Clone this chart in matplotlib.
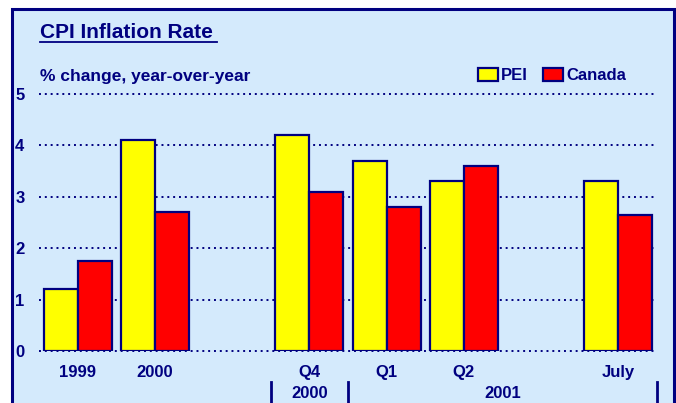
import numpy as np
import matplotlib.pyplot as plt
from matplotlib.patches import Rectangle
from matplotlib.transforms import blended_transform_factory

plt.rcParams['font.family'] = ['Liberation Sans', 'DejaVu Sans']
plt.rcParams['font.weight'] = 'bold'

navy = '#000080'
bg = '#D4EAFC'

# CPI, % change year-over-year
periods = ['1999', '2000', '', 'Q4', 'Q1', 'Q2', '', 'July']
pei = [1.2, 4.1, np.nan, 4.2, 3.7, 3.3, np.nan, 3.3]
canada = [1.75, 2.7, np.nan, 3.1, 2.8, 3.6, np.nan, 2.65]
years = ['2000', '2001']
year_spans = [(2.5, 3.5), (3.5, 7.5)]

fs = 12

fig = plt.figure(figsize=(6.76, 4.03), dpi=100)
fig.patch.set_facecolor('white')
# framed panel behind everything
panel = Rectangle((12/676, -0.05), 662/676, 1.05 - 9/403,
                  transform=fig.transFigure, facecolor=bg,
                  edgecolor=navy, linewidth=2.2, zorder=-10)
fig.add_artist(panel)

ax = fig.add_axes([39/676, 52/403, 618/676, 257/403])
ax.set_facecolor('none')
x = np.arange(len(periods))
w = 0.44
ax.bar(x - w/2, pei, w, color='#FFFF00', edgecolor=navy, linewidth=1.6,
       zorder=3, label='PEI')
ax.bar(x + w/2, canada, w, color='#FF0000', edgecolor=navy, linewidth=1.6,
       zorder=3, label='Canada')

ax.set_xlim(-0.5, len(periods) - 0.5)
ax.set_ylim(0, 5)
ax.set_yticks(range(6))
ax.set_xticks(x)
ax.set_xticklabels(periods)
ax.tick_params(axis='x', length=0, pad=10, labelsize=fs, labelcolor=navy)
ax.tick_params(axis='y', length=0, pad=10.5, labelsize=fs, labelcolor=navy)
ax.yaxis.grid(True, linestyle=(0, (1, 2)), color=navy, linewidth=1.4)
for gl in ax.get_ygridlines():
    gl.set_clip_on(False)
ax.set_axisbelow(True)
for s in ax.spines.values():
    s.set_visible(False)

# year grouping below the period labels
tr = blended_transform_factory(ax.transData, ax.transAxes)
for b in [2.5, 3.5, 7.5]:
    ax.plot([b, b], [-0.12, -0.21], color=navy, linewidth=2,
            transform=tr, clip_on=False)
for yr, (a, b) in zip(years, year_spans):
    ax.text((a + b) / 2, -0.165, yr, transform=tr, ha='center', va='center',
            fontsize=fs, color=navy)

fig.text(40/676, 1 - 32/403, 'CPI Inflation Rate', fontsize=15, color=navy,
         va='center', ha='left')
fig.add_artist(plt.Line2D([40/676, 217/676], [1 - 42/403, 1 - 42/403],
                          color=navy, linewidth=1.3))
fig.text(40/676, 1 - 76/403, '% change, year-over-year', fontsize=12.5,
         color=navy, va='center', ha='left')

ax.legend(loc='upper left', bbox_to_anchor=(478/676, 1 - 68/403),
          bbox_transform=fig.transFigure, ncol=2, frameon=False,
          fontsize=fs, labelcolor=navy, handlelength=1.2, handleheight=0.8,
          handletextpad=0.2, columnspacing=0.9, borderpad=0, borderaxespad=0)

fig.savefig('out.png', dpi=100)
